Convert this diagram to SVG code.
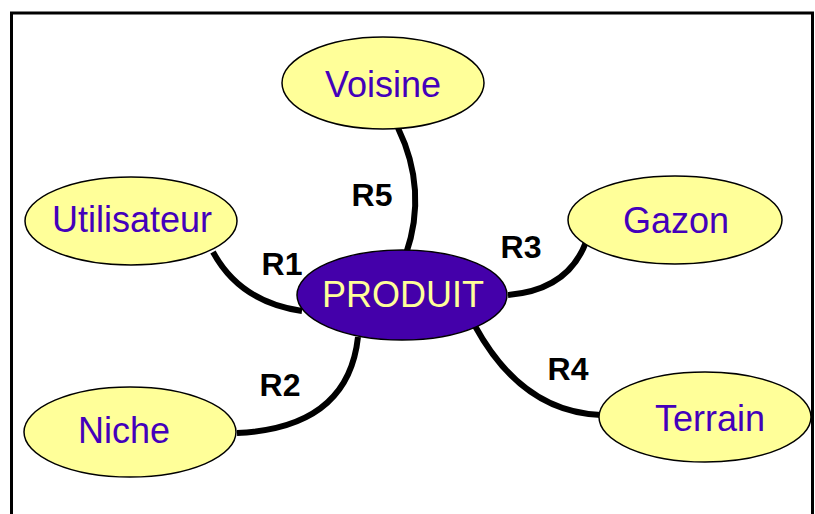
<svg xmlns="http://www.w3.org/2000/svg" width="815" height="514" viewBox="0 0 815 514">
<style>
.node ellipse{fill:#FFFF99;stroke:#000;stroke-width:1.5}
.node text{font-family:"Liberation Sans",Arial,sans-serif;font-size:36px;fill:#4400BB;text-anchor:middle}
#produit ellipse{fill:#4400AA}
#produit text{fill:#FFFF99}
.edge{fill:none;stroke:#000;stroke-width:6;stroke-linecap:butt}
.lbl{font-family:"Liberation Sans",Arial,sans-serif;font-size:32px;font-weight:bold;fill:#000;text-anchor:middle}
</style>
<rect width="815" height="514" fill="#fff"/>
<rect x="11.5" y="13" width="801" height="520" fill="none" stroke="#000" stroke-width="3"/>
<g id="connectors">
<path class="edge" d="M398,128 Q428,190 406,254"/>
<path class="edge" d="M213,252 Q240,302 302,311"/>
<path class="edge" d="M586,242 Q568,290 508,295"/>
<path class="edge" d="M237,433 Q348,428 358,337"/>
<path class="edge" d="M475,326 Q522,412 601,415"/>
</g>
<g id="labels">
<text class="lbl" x="372" y="206">R5</text>
<text class="lbl" x="282" y="275">R1</text>
<text class="lbl" x="521" y="258">R3</text>
<text class="lbl" x="280" y="396">R2</text>
<text class="lbl" x="568" y="380">R4</text>
</g>
<g id="voisine" class="node"><ellipse cx="383" cy="83" rx="101" ry="46"/><text x="383" y="97">Voisine</text></g>
<g id="utilisateur" class="node"><ellipse cx="131" cy="221" rx="106" ry="44"/><text x="132" y="232">Utilisateur</text></g>
<g id="gazon" class="node"><ellipse cx="675" cy="220" rx="107" ry="44"/><text x="676" y="233">Gazon</text></g>
<g id="produit" class="node"><ellipse cx="402" cy="295" rx="105" ry="45"/><text x="403" y="307">PRODUIT</text></g>
<g id="niche" class="node"><ellipse cx="130" cy="432" rx="106" ry="45"/><text x="124" y="443">Niche</text></g>
<g id="terrain" class="node"><ellipse cx="705" cy="417" rx="106" ry="45"/><text x="710" y="431">Terrain</text></g>
</svg>
